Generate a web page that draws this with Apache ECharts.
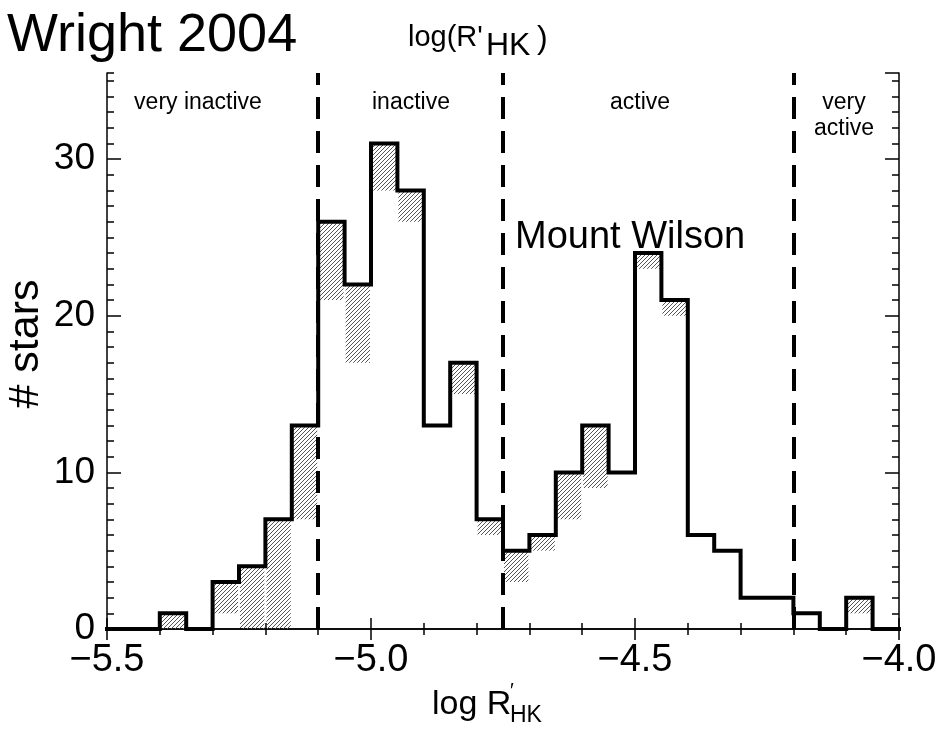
<!DOCTYPE html>
<html><head><meta charset="utf-8">
<script src="https://cdn.jsdelivr.net/npm/echarts@6/dist/echarts.min.js"></script>
<style>html,body{margin:0;padding:0;background:#fff}#c{width:941px;height:731px}</style>
</head><body><div id="c"></div>
<script>
// ---- data ----
const binLeft = [-5.50,-5.45,-5.40,-5.35,-5.30,-5.25,-5.20,-5.15,-5.10,-5.05,-5.00,-4.95,-4.90,-4.85,-4.80,
                 -4.75,-4.70,-4.65,-4.60,-4.55,-4.50,-4.45,-4.40,-4.35,-4.30,-4.25,-4.20,-4.15,-4.10,-4.05];
const binWidth = 0.05;
const counts   = [0,0,1,0,3,4,7,13,26,22,31,28,13,17,7,5,6,10,13,10,24,21,6,5,2,2,1,0,2,0];
const hatchLow = [null,null,0,null,1,0,0,7,21,17,28,26,null,15,6,3,5,7,9,null,23,20,null,null,null,null,null,null,1,null];
const hatchHigh= [null,null,1,null,3,4,7,13,26,22,31,28,null,17,7,5,6,10,13,null,24,21,null,null,null,null,null,null,2,null];
const dividers = [-5.1,-4.75,-4.2];
const regionLabels = ['very inactive','inactive','active','very\nactive'];
const xRange = [-5.5,-4.0];
const yRange = [0,35.5];

// ---- build ----
const FONT = '"Liberation Sans", Arial, Helvetica, sans-serif';
const pc = document.createElement('canvas'); pc.width = 4; pc.height = 4;
const g = pc.getContext('2d'); g.strokeStyle = '#555'; g.lineWidth = 1;
g.beginPath(); [-4,0,4].forEach(k => { g.moveTo(k, 4); g.lineTo(k + 4, 0); }); g.stroke();
const hatchPattern = { type: 'pattern', image: pc, repeat: 'repeat' };

const stepData = binLeft.map((x, i) => [x, counts[i]]);
stepData.push([xRange[1], counts[counts.length - 1]]);
const hatchData = [];
binLeft.forEach((x, i) => { if (hatchHigh[i] != null) hatchData.push([x, x + binWidth, hatchLow[i], hatchHigh[i]]); });

const axisLine = { show: true, lineStyle: { color: '#000', width: 1.5 } };
const fmtX = v => (v < 0 ? '\u2212' : '') + Math.abs(v).toFixed(1);
const xCommon = { type: 'value', min: xRange[0], max: xRange[1], interval: 0.5, splitLine: { show: false },
  axisLine, axisTick: { inside: true, length: 11, lineStyle: { color: '#000', width: 1.5 } },
  minorTick: { show: true, splitNumber: 5, length: 6, lineStyle: { color: '#000', width: 1.5 } } };
const yMajor = { type: 'value', min: yRange[0], max: yRange[1], interval: 10, splitLine: { show: false },
  axisLine, axisTick: { inside: true, length: 14, lineStyle: { color: '#000', width: 1.5 } } };
const yMinor = { type: 'value', min: yRange[0], max: yRange[1], interval: 1, splitLine: { show: false },
  axisLine: { show: false }, axisLabel: { show: false },
  axisTick: { inside: true, length: 7, lineStyle: { color: '#000', width: 1.5 } } };

const regionX = [198, 411, 640, 844];
const graphics = [
  { type: 'text', left: 7, top: 9, style: { text: 'Wright 2004', font: '54px ' + FONT, fill: '#000' } },
  { type: 'text', x: 408, y: 38, style: { text: "log(R'", font: '29px ' + FONT, fill: '#000', verticalAlign: 'middle' } },
  { type: 'text', x: 486, y: 46, style: { text: 'HK', font: '32px ' + FONT, fill: '#000', verticalAlign: 'middle' } },
  { type: 'text', x: 537, y: 39, style: { text: ')', font: '32px ' + FONT, fill: '#000', verticalAlign: 'middle' } },
  { type: 'text', x: 515, y: 238, style: { text: 'Mount Wilson', font: '38px ' + FONT, fill: '#000', verticalAlign: 'middle' } },
  { type: 'text', x: 26, y: 344, rotation: Math.PI / 2, style: { text: '# stars', font: '43px ' + FONT, fill: '#000', align: 'center', verticalAlign: 'middle' } },
  { type: 'text', x: 432, y: 705, style: { text: 'log R', font: '34px ' + FONT, fill: '#000', verticalAlign: 'middle' } },
  { type: 'text', x: 510, y: 691, style: { text: '\u2032', font: '20px ' + FONT, fill: '#000', verticalAlign: 'middle' } },
  { type: 'text', x: 510, y: 716, style: { text: 'HK', font: '23px ' + FONT, fill: '#000', verticalAlign: 'middle' } }
];
regionLabels.forEach((t, i) => graphics.push({ type: 'text', x: regionX[i], y: 99,
  style: { text: t, font: '23px ' + FONT, fill: '#000', align: 'center', verticalAlign: 'top', lineHeight: 26, y: -9 } }));

const chart = echarts.init(document.getElementById('c'), null, { renderer: 'canvas' });
chart.setOption({
  animation: false,
  backgroundColor: '#fff',
  grid: { left: 107, right: 42, top: 73, bottom: 102 },
  xAxis: [
    Object.assign({}, xCommon, { position: 'bottom', axisLabel: { formatter: fmtX, fontSize: 38, fontFamily: FONT, color: '#000', margin: 13 } }),
    Object.assign({}, xCommon, { position: 'top', axisLabel: { show: false } })
  ],
  yAxis: [
    Object.assign({}, yMajor, { position: 'left', axisLabel: { fontSize: 37, fontFamily: FONT, color: '#000', margin: 12, showMaxLabel: false } }),
    Object.assign({}, yMinor, { position: 'left' }),
    Object.assign({}, yMajor, { position: 'right', axisLabel: { show: false } }),
    Object.assign({}, yMinor, { position: 'right' })
  ],
  series: [
    { type: 'custom', xAxisIndex: 0, yAxisIndex: 0, data: hatchData, encode: { x: [0, 1], y: [2, 3] }, z: 1,
      renderItem: (params, api) => {
        const p0 = api.coord([api.value(0), api.value(3)]);
        const p1 = api.coord([api.value(1), api.value(2)]);
        return { type: 'rect', shape: { x: p0[0] + 1, y: p0[1], width: p1[0] - p0[0] - 2, height: p1[1] - p0[1] },
                 style: { fill: hatchPattern } };
      } },
    { type: 'line', xAxisIndex: 0, yAxisIndex: 0, data: stepData, step: 'end', showSymbol: false, clip: false, z: 3,
      lineStyle: { color: '#000', width: 4, cap: 'square', join: 'miter' },
      markLine: { silent: true, symbol: 'none', label: { show: false }, z: 2,
        lineStyle: { color: '#000', width: 4, type: [22, 12] },
        data: dividers.map(v => ({ xAxis: v })) } }
  ],
  graphic: graphics
});
</script></body></html>
